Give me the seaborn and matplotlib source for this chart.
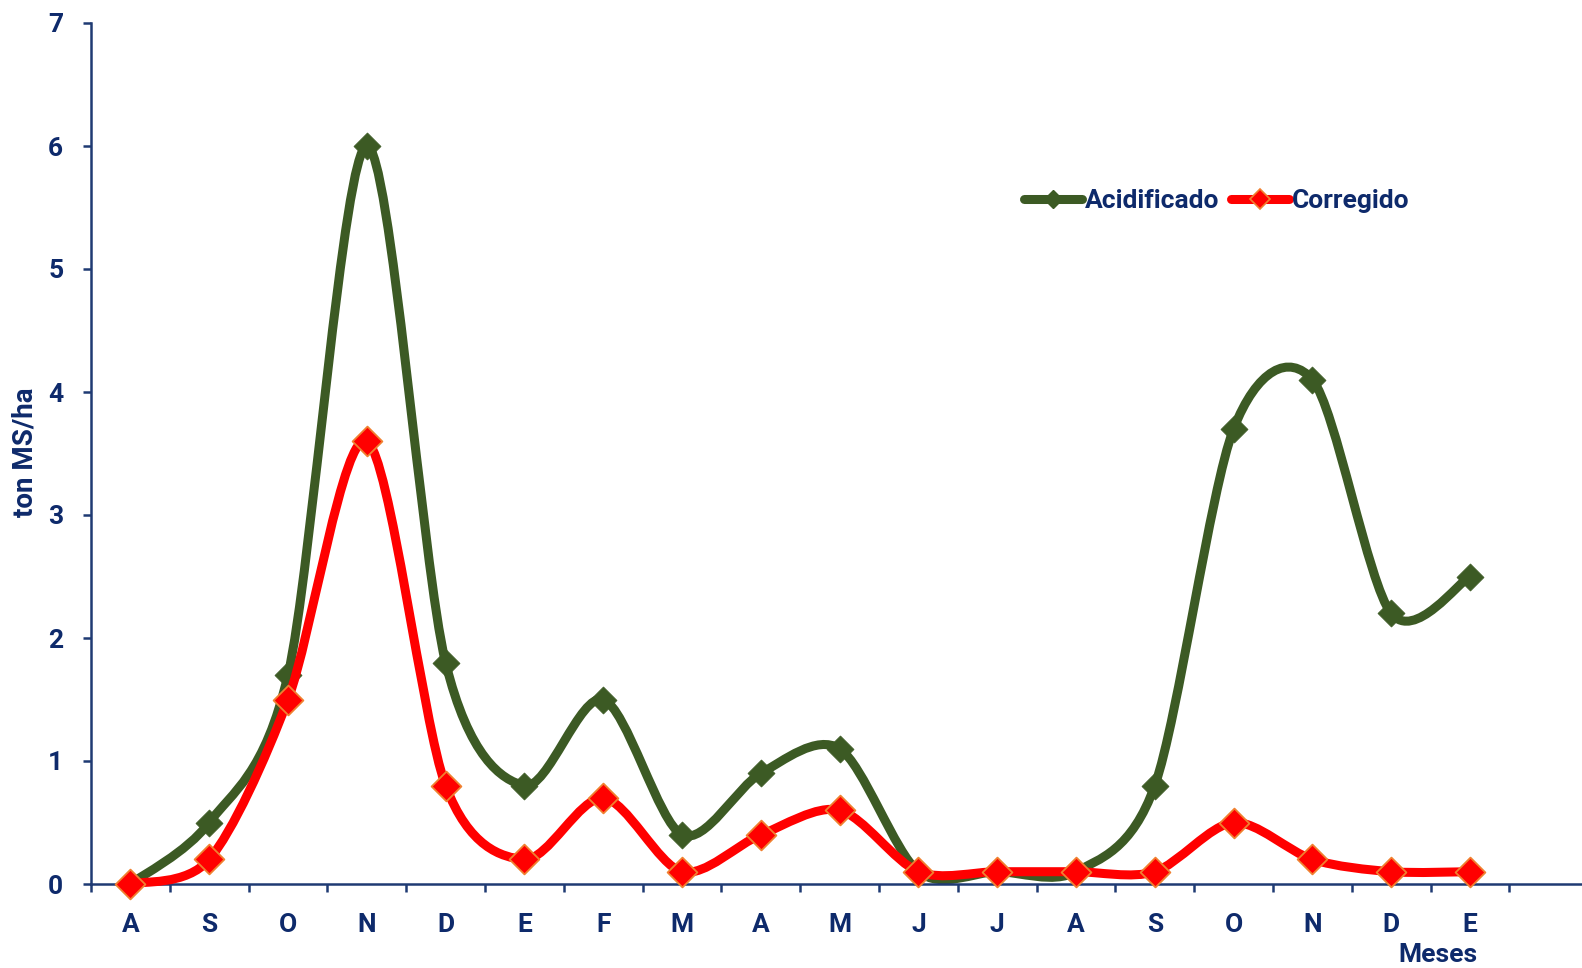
import numpy as np
import pandas as pd
import matplotlib
matplotlib.use("Agg")
import matplotlib.pyplot as plt
from matplotlib.path import Path
from matplotlib.patches import PathPatch
from matplotlib.lines import Line2D
import seaborn as sns

# Month labels (Aug -> Jan of the following-following year)
meses = ["A", "S", "O", "N", "D", "E", "F", "M", "A", "M", "J", "J", "A", "S", "O", "N", "D", "E"]
acidificado = [0.0, 0.5, 1.7, 6.0, 1.8, 0.8, 1.5, 0.4, 0.9, 1.1, 0.1, 0.1, 0.1, 0.8, 3.7, 4.1, 2.2, 2.5]
corregido = [0.0, 0.2, 1.5, 3.6, 0.8, 0.2, 0.7, 0.1, 0.4, 0.6, 0.1, 0.1, 0.1, 0.1, 0.5, 0.2, 0.1, 0.1]
y_ticks = [0, 1, 2, 3, 4, 5, 6, 7]

NAVY = "#0E2A6B"
SPINE = "#1F3A73"
GREEN = "#3C5A24"
RED = "#FF0000"
ORANGE = "#F08030"
FS = 19

sns.set_theme(style="white")
plt.rcParams["font.family"] = ["Roboto", "DejaVu Sans"]
plt.rcParams["font.weight"] = "bold"

pos = np.arange(len(meses))
df = pd.DataFrame({
    "pos": np.concatenate([pos, pos]),
    "valor": acidificado + corregido,
    "serie": ["Acidificado"] * len(meses) + ["Corregido"] * len(meses),
})

W, H = 1582, 968
left, bottom_px, top_px = 91, 884, 23
unit = 78.8
fig = plt.figure(figsize=(W / 100, H / 100), dpi=100)
ax = fig.add_axes([left / W, 1 - bottom_px / H, (W - left) / W, (bottom_px - top_px) / H])


def smooth_path(xs, ys, k=1 / 6.8):
    """Cubic Bezier path through the points (Catmull-Rom style tangents)."""
    p = np.column_stack([xs, ys]).astype(float)
    n = len(p)
    verts = [tuple(p[0])]
    codes = [Path.MOVETO]
    for i in range(n - 1):
        p0 = p[i - 1] if i > 0 else p[i]
        p1 = p[i]
        p2 = p[i + 1]
        p3 = p[i + 2] if i + 2 < n else p[i + 1]
        c1 = p1 + (p2 - p0) * k
        c2 = p2 - (p3 - p1) * k
        verts += [tuple(c1), tuple(c2), tuple(p2)]
        codes += [Path.CURVE4] * 3
    return Path(verts, codes)


lw = 6.5
# Acidificado: curve then markers
ax.add_patch(PathPatch(smooth_path(pos, acidificado), facecolor="none", edgecolor=GREEN,
                       lw=lw, capstyle="round", joinstyle="round", zorder=2, clip_on=False))
sns.scatterplot(data=df[df.serie == "Acidificado"], x="pos", y="valor", ax=ax,
                marker="D", s=190, color=GREEN, edgecolor=GREEN, linewidth=0.5,
                zorder=3, clip_on=False, legend=False)
# Corregido: curve then markers
ax.add_patch(PathPatch(smooth_path(pos, corregido), facecolor="none", edgecolor=RED,
                       lw=lw, capstyle="round", joinstyle="round", zorder=4, clip_on=False))
sns.scatterplot(data=df[df.serie == "Corregido"], x="pos", y="valor", ax=ax,
                marker="D", s=230, color=RED, edgecolor=ORANGE, linewidth=1.3,
                zorder=5, clip_on=False, legend=False)

ax.set_xlim(-0.5, -0.5 + (W - left) / unit)
ax.set_ylim(0, 7)

# Axes styling
for side in ["top", "right"]:
    ax.spines[side].set_visible(False)
for side in ["left", "bottom"]:
    ax.spines[side].set_color(SPINE)
    ax.spines[side].set_linewidth(1.8)

ax.set_yticks(y_ticks)
ax.set_yticklabels([str(v) for v in y_ticks])
ax.tick_params(axis="y", direction="out", length=6, width=1.8, color=SPINE,
               labelsize=FS, labelcolor=NAVY, pad=14, left=True)

# Boundary ticks between months, labels centred on each month
ax.set_xticks(np.arange(-0.5, len(meses), 1.0))
ax.set_xticklabels([])
ax.set_xticks(pos, minor=True)
ax.set_xticklabels(meses, minor=True)
ax.tick_params(axis="x", which="major", direction="out", length=6, width=1.8,
               color=SPINE, bottom=True)
ax.tick_params(axis="x", which="minor", length=0, labelsize=FS, labelcolor=NAVY, pad=21)
for lab in ax.get_xticklabels(minor=True) + ax.get_yticklabels():
    lab.set_fontweight("bold")

ax.set_xlabel("")
ax.set_ylabel("")
fig.text(25 / W, 1 - 452 / H, "ton MS/ha", rotation=90, ha="center", va="center",
         fontsize=20, fontweight="bold", color=NAVY)
fig.text(1438 / W, 1 - 955 / H, "Meses", ha="center", va="center",
         fontsize=FS, fontweight="bold", color=NAVY)

handles = [
    Line2D([0], [0], color=GREEN, lw=lw, marker="D", markersize=9,
           markerfacecolor=GREEN, markeredgecolor=GREEN, solid_capstyle="round"),
    Line2D([0], [0], color=RED, lw=lw, marker="D", markersize=10,
           markerfacecolor=RED, markeredgecolor=ORANGE, markeredgewidth=1.2,
           solid_capstyle="round"),
]
leg = fig.legend(handles, ["Acidificado", "Corregido"], ncol=2, frameon=False,
                 loc="center left", bbox_to_anchor=(1000 / W, 1 - 201 / H),
                 handlelength=2.2, handletextpad=0.1, columnspacing=0.45,
                 prop={"size": FS, "weight": "bold"})
for t in leg.get_texts():
    t.set_color(NAVY)

fig.savefig("out.png", dpi=100)
